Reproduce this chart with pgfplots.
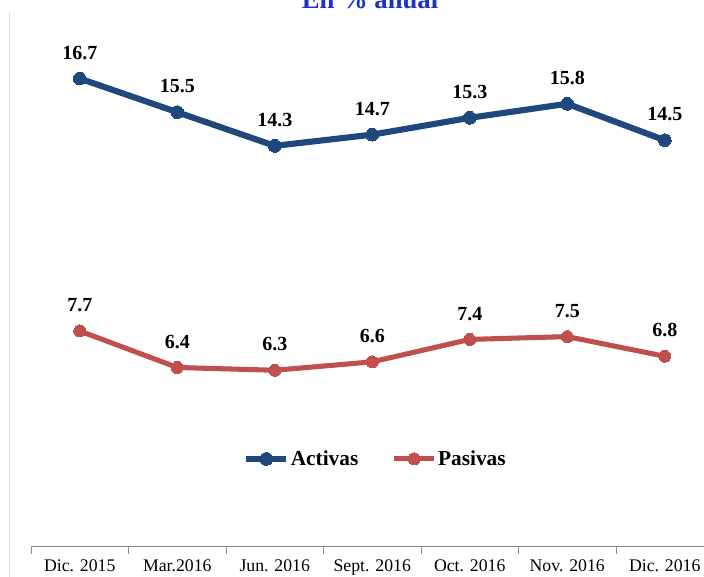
\documentclass[border=0pt]{standalone}
\usepackage{pgfplots}
\pgfplotsset{compat=1.18}
\usepackage{fontspec}
\setmainfont{Liberation Serif}
\definecolor{actblue}{HTML}{1F497D}
\definecolor{pasred}{HTML}{C0504D}
\definecolor{titleblue}{HTML}{1C34C4}
\begin{document}
\begin{tikzpicture}
\useasboundingbox (0,0) rectangle (528pt,432.75pt);
\draw[black!15, line width=0.75pt] (6.75pt,0) -- (6.75pt,423pt);
\node[anchor=base, text=titleblue, font=\bfseries\fontsize{20}{24}\selectfont] at (277.5pt,426pt) {En \% anual};
\begin{axis}[
  at={(23.25pt,22.5pt)}, anchor=south west,
  scale only axis, width=511.875pt, height=410.25pt,
  xmin=-0.5, xmax=6.5, ymin=0, ymax=19.5,
  axis x line*=bottom, axis y line=none,
  axis line style={black!45, line width=0.75pt},
  xtick={0,...,6},
  xticklabels={Dic. 2015, Mar.2016, Jun. 2016, Sept. 2016, Oct. 2016, Nov. 2016, Dic. 2016},
  major tick length=0pt,
  minor xtick={-0.5,0.5,...,6.5},
  minor tick length=5pt,
  tick align=outside,
  minor tick style={black!45, line width=0.75pt},
  xticklabel style={font=\fontsize{13.3}{15}\selectfont, yshift=-6pt},
  clip=false,
  nodes near coords,
  every node near coord/.append style={font=\bfseries\fontsize{15}{18}\selectfont, text=black, anchor=base, yshift=14.5pt},
  nodes near coords={\pgfmathprintnumber[fixed, fixed zerofill, precision=1, assume math mode=true]{\pgfplotspointmeta}},
  legend columns=2,
  legend style={at={(axis cs:3.03,3.14)}, anchor=center, draw=none, fill=none,
    font=\bfseries\fontsize{16}{19}\selectfont,
    nodes={inner sep=1pt},
    /tikz/every even column/.append style={column sep=24pt}},
  legend image code/.code={\draw[mark repeat=2,mark phase=2,#1] plot coordinates {(0pt,0pt) (15pt,0pt) (30pt,0pt)};},
]
\addplot[actblue, line width=4.6pt, mark=*, mark size=4.8pt, mark options={fill=actblue, line width=0pt}] coordinates {
(0,16.7) (1,15.5) (2,14.3) (3,14.7) (4,15.3) (5,15.8) (6,14.5)};
\addlegendentry{Activas}
\addplot[pasred, line width=3.8pt, mark=*, mark size=4.5pt, mark options={fill=pasred, line width=0pt}] coordinates {
(0,7.7) (1,6.4) (2,6.3) (3,6.6) (4,7.4) (5,7.5) (6,6.8)};
\addlegendentry{Pasivas}
\end{axis}
\end{tikzpicture}
\end{document}
